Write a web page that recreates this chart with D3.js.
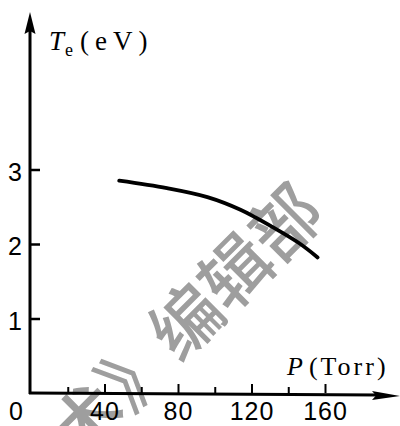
<!DOCTYPE html>
<html>
<head>
<meta charset="utf-8">
<script src="https://cdn.jsdelivr.net/npm/d3@7"></script>
<style>
  body { margin: 0; background: #fff; }
  svg { display: block; }
</style>
</head>
<body>
<script>
// Electron temperature versus gas pressure
const pressure    = [48, 74, 96, 114, 132, 146, 156];          // Torr
const temperature = [2.85, 2.75, 2.63, 2.46, 2.22, 2.01, 1.82]; // eV

const xTickValues  = [20, 40, 60, 80, 100, 120, 140, 160];
const xTickLabels  = [40, 80, 120, 160];
const yTickValues  = [1, 2, 3];
const watermark    = "术》编辑部";

const W = 400, H = 426;
const svg = d3.select("body").append("svg")
  .attr("width", W).attr("height", H)
  .attr("viewBox", `0 0 ${W} ${H}`);

const x = d3.scaleLinear().domain([0, 160]).range([31, 325]);
const y = d3.scaleLinear().domain([0, 3]).range([393, 169.5]);

const ox = 30, oy = y(0);

// faint diagonal stamp behind the plot
svg.append("text")
  .attr("transform", "translate(183,318) rotate(-45)")
  .attr("text-anchor", "middle")
  .attr("dominant-baseline", "central")
  .attr("font-family", "'Noto Sans CJK SC', sans-serif")
  .attr("font-weight", 500)
  .attr("font-size", 70)
  .attr("fill", "#9e9e9e")
  .text(watermark);

// axis lines
svg.append("line")
  .attr("x1", ox).attr("y1", oy + 1)
  .attr("x2", ox).attr("y2", 20)
  .attr("stroke", "#000").attr("stroke-width", 3);

svg.append("line")
  .attr("x1", ox - 1).attr("y1", oy)
  .attr("x2", 378).attr("y2", oy + 2)
  .attr("stroke", "#000").attr("stroke-width", 3);

// arrow heads
svg.append("path")
  .attr("d", `M30,12 L35.5,34 L30,31 L24.5,34 Z`)
  .attr("fill", "#000");

svg.append("path")
  .attr("d", `M400,${oy + 3} L372,${oy - 2} L376,${oy + 2.5} L372,${oy + 7} Z`)
  .attr("fill", "#000");

const tickFont = "'Liberation Sans Narrow', 'Liberation Sans', sans-serif";

// y axis: ticks point into the plot
const yAxis = d3.axisLeft(y)
  .tickValues(yTickValues)
  .tickSize(-10)
  .tickPadding(8)
  .tickFormat(d3.format("d"));

const gy = svg.append("g")
  .attr("transform", `translate(${ox},0)`)
  .call(yAxis);
gy.select(".domain").remove();
gy.selectAll(".tick line").attr("stroke", "#000").attr("stroke-width", 2.5);
gy.selectAll(".tick text")
  .attr("font-family", tickFont)
  .attr("font-size", 25)
  .attr("fill", "#000")
  .attr("dy", "0.42em");

// x axis: minor and major ticks pointing up
const xAxis = d3.axisBottom(x)
  .tickValues(xTickValues)
  .tickSize(-7)
  .tickPadding(27)
  .tickFormat(d => xTickLabels.includes(d) ? d : "");

const gx = svg.append("g")
  .attr("transform", `translate(0,${oy})`)
  .call(xAxis);
gx.select(".domain").remove();
gx.selectAll(".tick line")
  .attr("stroke", "#000").attr("stroke-width", 2)
  .attr("y2", d => xTickLabels.includes(d) ? -9 : -6);
gx.selectAll(".tick text")
  .attr("font-family", tickFont)
  .attr("font-size", 25)
  .attr("fill", "#000")
  .attr("dy", 0)
  .attr("letter-spacing", 1);

// origin label
svg.append("text")
  .attr("x", x(0) - 15).attr("y", oy + 27)
  .attr("text-anchor", "middle")
  .attr("font-family", tickFont)
  .attr("font-size", 25)
  .text("0");

// axis titles
const yTitle = svg.append("text")
  .attr("x", 49).attr("y", 50)
  .attr("font-family", "'Liberation Serif', serif")
  .attr("font-size", 27)
  .attr("fill", "#000");
yTitle.append("tspan").attr("font-style", "italic").text("T");
yTitle.append("tspan").attr("font-size", 18).attr("dy", 6).attr("dx", 1).text("e");
yTitle.append("tspan").attr("dy", -6).attr("dx", 7).attr("letter-spacing", 6).text("(eV)");

const xTitle = svg.append("text")
  .attr("x", 287).attr("y", 375)
  .attr("font-family", "'Liberation Serif', serif")
  .attr("font-size", 26)
  .attr("fill", "#000");
xTitle.append("tspan").attr("font-style", "italic").text("P");
xTitle.append("tspan").attr("dx", 6).attr("letter-spacing", 3).text("(Torr)");

// measured curve
const line = d3.line()
  .x(d => x(d[0]))
  .y(d => y(d[1]))
  .curve(d3.curveCatmullRom.alpha(0.5));

svg.append("path")
  .datum(d3.zip(pressure, temperature))
  .attr("d", line)
  .attr("fill", "none")
  .attr("stroke", "#000")
  .attr("stroke-width", 3.8)
  .attr("stroke-linecap", "round");
</script>
</body>
</html>
